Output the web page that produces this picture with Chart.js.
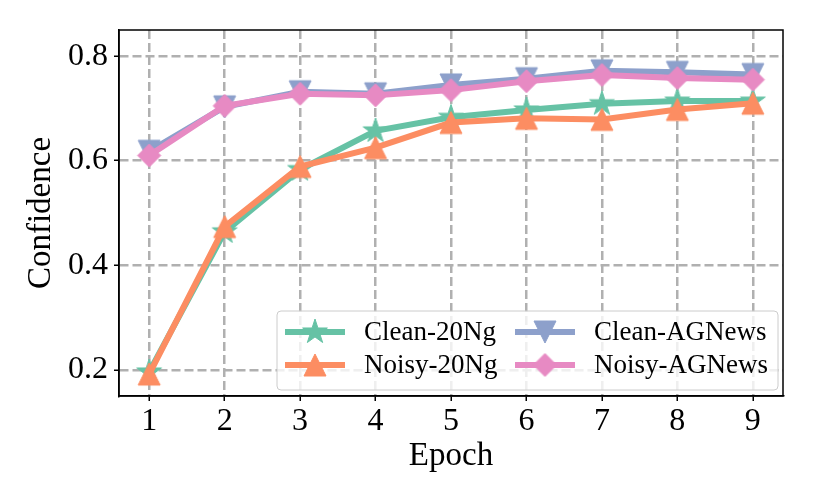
<!DOCTYPE html>
<html>
<head>
<meta charset="utf-8">
<script src="https://cdn.jsdelivr.net/npm/chart.js@4/dist/chart.umd.min.js"></script>
<style>
  html, body { margin: 0; padding: 0; background: #fff; }
  #chart { display: block; }
</style>
</head>
<body>
<canvas id="chart" width="814" height="503"></canvas>
<script>
var epochs = [1, 2, 3, 4, 5, 6, 7, 8, 9];
var clean20Ng = [0.196, 0.464, 0.583, 0.657, 0.683, 0.697, 0.709, 0.714, 0.714];
var noisy20Ng = [0.192, 0.474, 0.589, 0.625, 0.673, 0.681, 0.679, 0.698, 0.710];
var cleanAGNews = [0.618, 0.703, 0.732, 0.728, 0.745, 0.757, 0.772, 0.769, 0.765];
var noisyAGNews = [0.610, 0.705, 0.728, 0.725, 0.735, 0.752, 0.764, 0.758, 0.755];
var yTicks = [0.2, 0.4, 0.6, 0.8];

var FONT = "'Liberation Serif', 'Times New Roman', serif";
Chart.defaults.font.family = FONT;
Chart.defaults.color = '#000';

// matplotlib-like filled markers drawn once into small canvases
function markerCanvas(kind, color, r) {
  var pad = 3;
  var c = document.createElement('canvas');
  c.width = c.height = Math.ceil(2 * (r + pad));
  var ctx = c.getContext('2d');
  ctx.translate(c.width / 2, c.height / 2);
  ctx.beginPath();
  if (kind === 'star') {
    for (var k = 0; k < 10; k++) {
      var rad = k % 2 === 0 ? r : r * 0.381966;
      var ang = -Math.PI / 2 + k * Math.PI / 5;
      ctx.lineTo(Math.cos(ang) * rad, Math.sin(ang) * rad);
    }
  } else if (kind === 'up') {
    ctx.moveTo(0, -r); ctx.lineTo(-r, r); ctx.lineTo(r, r);
  } else if (kind === 'down') {
    ctx.moveTo(0, r); ctx.lineTo(-r, -r); ctx.lineTo(r, -r);
  } else {
    ctx.moveTo(0, -r); ctx.lineTo(r, 0); ctx.lineTo(0, r); ctx.lineTo(-r, 0);
  }
  ctx.closePath();
  ctx.fillStyle = color;
  ctx.fill();
  ctx.lineWidth = 1;
  ctx.strokeStyle = color;
  ctx.stroke();
  return c;
}

function series(label, values, color, kind, r, order) {
  return {
    label: label,
    data: epochs.map(function (e, i) { return { x: e, y: values[i] }; }),
    borderColor: color,
    backgroundColor: color,
    borderWidth: 6,
    tension: 0,
    pointStyle: markerCanvas(kind, color, r),
    pointRadius: r,
    order: order
  };
}

var datasets = [
  series('Clean-20Ng', clean20Ng, '#66c2a5', 'star', 13, 3),
  series('Noisy-20Ng', noisy20Ng, '#fc8d62', 'up', 11, 2),
  series('Clean-AGNews', cleanAGNews, '#8da0cb', 'down', 11, 1),
  series('Noisy-AGNews', noisyAGNews, '#e78ac3', 'diamond', 11.5, 0)
];

// box around the plot like matplotlib spines
var framePlugin = {
  id: 'frame',
  afterDatasetsDraw: function (chart) {
    var a = chart.chartArea, ctx = chart.ctx;
    ctx.save();
    ctx.strokeStyle = '#000';
    ctx.lineWidth = 1.5;
    ctx.strokeRect(a.left, a.top, a.right - a.left, a.bottom - a.top);
    ctx.restore();
  }
};

// two-column legend in the lower right corner of the plot
var legendPlugin = {
  id: 'boxLegend',
  afterDraw: function (chart) {
    var ctx = chart.ctx, a = chart.chartArea;
    var w = 501, h = 79;
    var x0 = a.right - 5 - w, y0 = a.bottom - 6 - h;
    ctx.save();
    ctx.beginPath();
    ctx.roundRect(x0, y0, w, h, 4);
    ctx.fillStyle = 'rgba(255,255,255,0.8)';
    ctx.fill();
    ctx.lineWidth = 1;
    ctx.strokeStyle = '#cccccc';
    ctx.stroke();
    ctx.font = '27px ' + FONT;
    ctx.textBaseline = 'middle';
    ctx.fillStyle = '#000';
    chart.data.datasets.forEach(function (ds, i) {
      var col = Math.floor(i / 2), row = i % 2;
      var lx = x0 + 8 + col * 230, ly = y0 + 21 + row * 33;
      ctx.beginPath();
      ctx.moveTo(lx, ly);
      ctx.lineTo(lx + 60, ly);
      ctx.lineWidth = 6;
      ctx.strokeStyle = ds.borderColor;
      ctx.stroke();
      var m = ds.pointStyle;
      ctx.drawImage(m, lx + 30 - m.width / 2, ly - m.height / 2);
      ctx.fillText(ds.label, lx + 79, ly + 1);
    });
    ctx.restore();
  }
};

new Chart(document.getElementById('chart'), {
  type: 'line',
  data: { datasets: datasets },
  options: {
    responsive: false,
    animation: false,
    events: [],
    layout: { padding: { left: 0, right: 31, top: 30, bottom: 0 } },
    plugins: { legend: { display: false }, tooltip: { enabled: false } },
    scales: {
      x: {
        type: 'linear',
        min: 0.6,
        max: 9.4,
        afterBuildTicks: function (s) { s.ticks = epochs.map(function (v) { return { value: v }; }); },
        afterFit: function (s) { s.height = 107; },
        ticks: { font: { size: 32 }, padding: 1, maxRotation: 0 },
        grid: { color: '#b0b0b0', lineWidth: 2.5, tickColor: '#000', tickLength: 5, tickWidth: 1.5 },
        border: { color: '#000', width: 1.5, dash: [9, 4] },
        title: { display: true, text: 'Epoch', font: { size: 33 }, padding: { top: 0, bottom: 27 } }
      },
      y: {
        min: 0.15,
        max: 0.85,
        afterBuildTicks: function (s) { s.ticks = yTicks.map(function (v) { return { value: v }; }); },
        afterFit: function (s) { s.width = 119; },
        ticks: { font: { size: 32 }, padding: 6, callback: function (v) { return v.toFixed(1); } },
        grid: { color: '#b0b0b0', lineWidth: 2.5, tickColor: '#000', tickLength: 5, tickWidth: 1.5 },
        border: { color: '#000', width: 1.5, dash: [9, 4] },
        title: { display: true, text: 'Confidence', font: { size: 33 }, padding: { top: 22, bottom: 0 } }
      }
    }
  },
  plugins: [framePlugin, legendPlugin]
});
</script>
</body>
</html>
